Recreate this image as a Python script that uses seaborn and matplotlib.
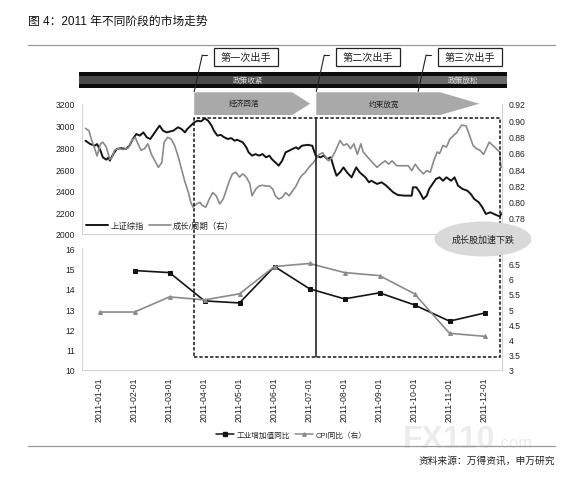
import seaborn as sns
import matplotlib.pyplot as plt
import matplotlib.patches as mpatches
from matplotlib.lines import Line2D
import numpy as np

# 上证综指（按年内天数）
sh_day = [4, 8, 12, 14, 17, 19, 22, 24, 25, 28, 31, 35, 39, 42, 45, 48, 51, 54, 57, 60,
          62, 65, 68, 71, 74, 77, 80, 84, 87, 90, 92, 95, 98, 101, 104, 107, 110, 113, 115, 118,
          121, 124, 127, 130, 133, 135, 140, 143, 145, 148, 151, 154, 157, 160, 163, 165, 168, 171, 174, 177,
          180, 183, 186, 188, 191, 196, 200, 203, 207, 210, 213, 216, 219, 221, 224, 227, 230, 234, 238, 241,
          246, 249, 251, 256, 260, 264, 267, 270, 274, 280, 286, 287, 290, 293, 296, 299, 301, 304, 307, 310,
          313, 316, 320, 323, 326, 330, 334, 337, 340, 344, 347, 350, 354, 359, 362, 364]
sh_val = [2861, 2831, 2815, 2830, 2769, 2708, 2686, 2708, 2677, 2738, 2785, 2792, 2785, 2815, 2877, 2923, 2908, 2938, 2892, 2877,
          2908, 2954, 3000, 2954, 2938, 2946, 2954, 2985, 2969, 2938, 2969, 3000, 3031, 3046, 3040, 3068, 3046, 3000, 2954, 2908,
          2915, 2892, 2877, 2885, 2861, 2870, 2846, 2800, 2754, 2723, 2738, 2723, 2738, 2708, 2723, 2692, 2662, 2631, 2677, 2754,
          2769, 2785, 2800, 2785, 2815, 2823, 2815, 2723, 2708, 2723, 2692, 2708, 2600, 2538, 2569, 2615, 2569, 2523, 2615, 2569,
          2523, 2477, 2492, 2462, 2477, 2446, 2415, 2385, 2360, 2354, 2354, 2431, 2431, 2385, 2323, 2354, 2415, 2462, 2508, 2523,
          2492, 2523, 2492, 2523, 2446, 2415, 2400, 2369, 2323, 2292, 2246, 2185, 2200, 2175, 2163, 2194]

# 成长/周期（右轴）
gc_day = [4, 7, 9, 12, 14, 17, 19, 22, 25, 27, 29, 32, 37, 41, 44, 47, 50, 52, 55, 58,
          61, 64, 67, 70, 72, 75, 78, 81, 84, 87, 90, 93, 95, 97, 100, 103, 105, 108, 111, 114,
          117, 120, 123, 125, 128, 131, 134, 137, 140, 143, 146, 148, 151, 154, 157, 160, 163, 166, 168, 171,
          174, 177, 180, 183, 186, 189, 191, 194, 197, 201, 206, 209, 211, 214, 217, 220, 224, 227, 230, 233,
          236, 239, 242, 244, 247, 252, 256, 259, 263, 266, 269, 273, 277, 283, 286, 289, 292, 296, 299, 302,
          305, 308, 310, 313, 316, 319, 322, 325, 329, 333, 336, 339, 342, 345, 348, 351, 353, 356, 359, 362,
          363, 364]
gc_val = [0.890, 0.887, 0.877, 0.865, 0.856, 0.871, 0.873, 0.867, 0.852, 0.854, 0.863, 0.865, 0.864, 0.866, 0.875, 0.879, 0.869, 0.863, 0.865, 0.871,
          0.858, 0.850, 0.842, 0.848, 0.873, 0.879, 0.877, 0.869, 0.856, 0.840, 0.824, 0.811, 0.799, 0.793, 0.797, 0.799, 0.795, 0.793, 0.803, 0.811,
          0.807, 0.797, 0.803, 0.811, 0.824, 0.834, 0.836, 0.830, 0.834, 0.830, 0.822, 0.807, 0.815, 0.819, 0.820, 0.819, 0.819, 0.815, 0.807, 0.803,
          0.805, 0.811, 0.807, 0.813, 0.819, 0.828, 0.832, 0.836, 0.842, 0.848, 0.858, 0.860, 0.856, 0.850, 0.854, 0.862, 0.875, 0.869, 0.871, 0.865,
          0.871, 0.858, 0.871, 0.861, 0.856, 0.848, 0.842, 0.846, 0.850, 0.846, 0.850, 0.844, 0.844, 0.844, 0.838, 0.846, 0.840, 0.834, 0.838, 0.836,
          0.850, 0.861, 0.859, 0.869, 0.867, 0.877, 0.881, 0.885, 0.894, 0.893, 0.881, 0.869, 0.865, 0.863, 0.858, 0.867, 0.873, 0.869, 0.865, 0.861,
          0.842, 0.843]

months = ["2011-01-01", "2011-02-01", "2011-03-01", "2011-04-01", "2011-05-01", "2011-06-01",
          "2011-07-01", "2011-08-01", "2011-09-01", "2011-10-01", "2011-11-01", "2011-12-01"]
iav = [np.nan, 14.9, 14.8, 13.4, 13.3, 15.1, 14.0, 13.5, 13.8, 13.2, 12.4, 12.8]
cpi = [4.9, 4.9, 5.4, 5.3, 5.5, 6.4, 6.5, 6.2, 6.1, 5.5, 4.2, 4.1]
month_start = [1, 32, 60, 91, 121, 152, 182, 213, 244, 274, 305, 335]

events = [98, 203.5, 291.5]
event_labels = ["第一次出手", "第二次出手", "第三次出手"]
box_end_day = 362

sns.set_theme(style="white")
plt.rcParams['font.family'] = ['Liberation Sans', 'Noto Sans CJK SC']
plt.rcParams['axes.unicode_minus'] = False

W, H = 577, 481
fig = plt.figure(figsize=(W / 100, H / 100), dpi=100)


def fx(p):
    return p / W


def fy(p):
    return 1 - p / H


BLACK = '#141414'
GRAY = '#8a8a8a'
SPINE = '#d4d4d4'

ax1 = fig.add_axes([fx(82), fy(235), 420 / W, 130 / H])
ax1r = ax1.twinx()
ax2 = fig.add_axes([fx(82), fy(370.7), 420 / W, 121.4 / H])
ax2r = ax2.twinx()

sns.lineplot(x=sh_day, y=sh_val, ax=ax1, color=BLACK, lw=1.4, legend=False)
sns.lineplot(x=gc_day, y=gc_val, ax=ax1r, color=GRAY, lw=1.2, legend=False)

idx = np.arange(len(months))
sns.lineplot(x=idx, y=iav, ax=ax2, color=BLACK, lw=1.2, marker='s', markersize=3.5,
             markeredgecolor=BLACK, legend=False)
sns.lineplot(x=idx, y=cpi, ax=ax2r, color=GRAY, lw=1.2, marker='^', markersize=2.8,
             markeredgecolor=GRAY, legend=False)

ax1.set_xlim(4, 364)
ax1r.set_xlim(4, 364)
ax1.set_ylim(2000, 3200)
ax1.set_yticks(range(2000, 3201, 200))
ax1r.set_ylim(0.76, 0.92)
ax1r.set_yticks([0.78, 0.80, 0.82, 0.84, 0.86, 0.88, 0.90, 0.92])
ax1r.set_yticklabels([f"{v:.2f}" for v in ax1r.get_yticks()])
ax1.set_xticks(month_start)
ax1.set_xticklabels([])

ax2.set_xlim(-0.5, 11.5)
ax2.set_ylim(10, 16)
ax2.set_yticks(range(10, 17))
ax2r.set_ylim(3, 7)
ax2r.set_yticks([3, 3.5, 4, 4.5, 5, 5.5, 6, 6.5])
ax2r.set_yticklabels(["3", "3.5", "4", "4.5", "5", "5.5", "6", "6.5"])
ax2.set_xticks(idx)
ax2.set_xticklabels(months, rotation=90)

for a in (ax1, ax1r, ax2, ax2r):
    a.set_xlabel("")
    a.set_ylabel("")
    a.set_facecolor('none')
    for s in a.spines.values():
        s.set_color(SPINE)
        s.set_linewidth(0.8)
    a.spines['top'].set_visible(False)
    a.tick_params(axis='y', length=0, labelsize=6.2, colors='#222222', pad=5)
    a.tick_params(axis='x', length=2, color=SPINE, labelsize=6.3, colors='#222222', pad=3)
    a.grid(False)
for a in (ax1r, ax2r):
    a.spines['left'].set_visible(False)
    a.spines['bottom'].set_visible(False)
ax1.tick_params(axis='x', colors=SPINE, labelsize=1)

# 图例
h_top = [Line2D([], [], color=BLACK, lw=1.4), Line2D([], [], color=GRAY, lw=1.2)]
ax1.legend(h_top, ["上证综指", "成长/周期（右）"], loc='center left', bbox_to_anchor=(0.01, 0.065),
           frameon=False, fontsize=6, ncol=2, handlelength=2.6, handletextpad=0.3,
           columnspacing=0.6, borderpad=0, borderaxespad=0)
h_bot = [Line2D([], [], color=BLACK, lw=1.1, marker='s', markersize=3),
         Line2D([], [], color=GRAY, lw=1.1, marker='^', markersize=2.5)]
fig.legend(h_bot, ["工业增加值同比", "CPI同比（右）"], loc='center', bbox_to_anchor=(fx(291), fy(436)),
           frameon=False, fontsize=5.5, ncol=2, handlelength=2.4, handletextpad=0.3,
           columnspacing=0.6, borderpad=0)


def day_px(d):
    return ax1.transData.transform((d, 2500))[0]


ev_px = [day_px(d) for d in events]
box_right = day_px(box_end_day)

# 标题与分隔线
fig.text(fx(28), fy(22), "图 4：2011 年不同阶段的市场走势", fontsize=8.5, va='center', ha='left', color='#111111')
fig.add_artist(Line2D([fx(28), fx(555)], [fy(46), fy(46)], color='#9a9a9a', lw=0.9))
fig.text(fx(403), fy(448), "FX110", fontsize=23, color='#ececec', weight='bold', va='baseline', ha='left', zorder=0)
fig.text(fx(497), fy(448), ".com", fontsize=12, color='#ececec', va='baseline', ha='left', zorder=0)
fig.add_artist(Line2D([fx(28), fx(555)], [fy(447), fy(447)], color='#9a9a9a', lw=0.9))
fig.text(fx(555), fy(461), "资料来源：万得资讯，申万研究", fontsize=7, va='center', ha='right', color='#222222')

# 政策条
fig.add_artist(mpatches.Rectangle((fx(79.3), fy(89)), 427.4 / W, 15.7 / H, transform=fig.transFigure,
                                  fc='#0c0c0c', ec='none', zorder=3))
fig.add_artist(mpatches.Rectangle((fx(79.3), fy(85)), (ev_px[2] - 79.3) / W, 7.5 / H, transform=fig.transFigure,
                                  fc='#4a4a4a', ec='none', zorder=3))
fig.add_artist(mpatches.Rectangle((ev_px[2] / W, fy(85)), (506.7 - ev_px[2]) / W, 7.5 / H, transform=fig.transFigure,
                                  fc='#6a6a6a', ec='none', zorder=3))
fig.text(fx(248), fy(81.3), "政策收紧", fontsize=5.5, color='#dddddd', ha='center', va='center', zorder=4)
fig.text(fx(463), fy(81.3), "政策放松", fontsize=5.5, color='#dddddd', ha='center', va='center', zorder=4)

# 阶段箭头
def arrow(x0, body, tip, text, tx):
    pts = [(fx(x0), fy(93.3)), (fx(x0 + body), fy(93.3)), (fx(x0 + tip), fy(104.7)),
           (fx(x0 + body), fy(116)), (fx(x0), fy(116))]
    fig.add_artist(mpatches.Polygon(pts, closed=True, transform=fig.transFigure,
                                    fc='#a9a9a9', ec='none', zorder=3))
    fig.text(fx(x0 + tx), fy(104.5), text, fontsize=5.5, color='#222222', ha='center', va='center', zorder=4)


arrow(ev_px[0], 98, 116, "经济回落", 50)
arrow(ev_px[1], 124, 163, "约束放宽", 68)

# 出手标注
for x, lab in zip(ev_px, event_labels):
    top = x + 8
    fig.add_artist(Line2D([fx(x), fx(top)], [fy(92.5), fy(56)], color='#222222', lw=0.8, zorder=4))
    fig.add_artist(Line2D([fx(top), fx(top + 5)], [fy(56), fy(56)], color='#222222', lw=0.8, zorder=4))
    bx = top + 12
    fig.add_artist(mpatches.Rectangle((fx(bx), fy(67)), 64 / W, 18.5 / H, transform=fig.transFigure,
                                      fc='white', ec='#222222', lw=0.9, zorder=4))
    fig.text(fx(bx + 32), fy(57.8), lab, fontsize=7.3, color='#222222', ha='center', va='center', zorder=5)

# 虚线框与竖线
fig.add_artist(mpatches.Rectangle((ev_px[0] / W, fy(357.7)), (box_right - ev_px[0]) / W, (357.7 - 119) / H,
                                  transform=fig.transFigure, fill=False, ec=BLACK, lw=1.1,
                                  ls=(0, (2.2, 1.3)), zorder=6))
fig.add_artist(Line2D([ev_px[1] / W, ev_px[1] / W], [fy(119), fy(357.7)], color=BLACK, lw=1.1, zorder=6))

# 椭圆注释
fig.add_artist(mpatches.Ellipse((fx(483), fy(240)), 97 / W, 35 / H, transform=fig.transFigure,
                                fc='#d9d9d9', ec='none', zorder=7))
fig.text(fx(483), fy(240), "成长股加速下跌", fontsize=6.5, color='#222222', ha='center', va='center', zorder=8)

fig.savefig("out.png", dpi=100)
